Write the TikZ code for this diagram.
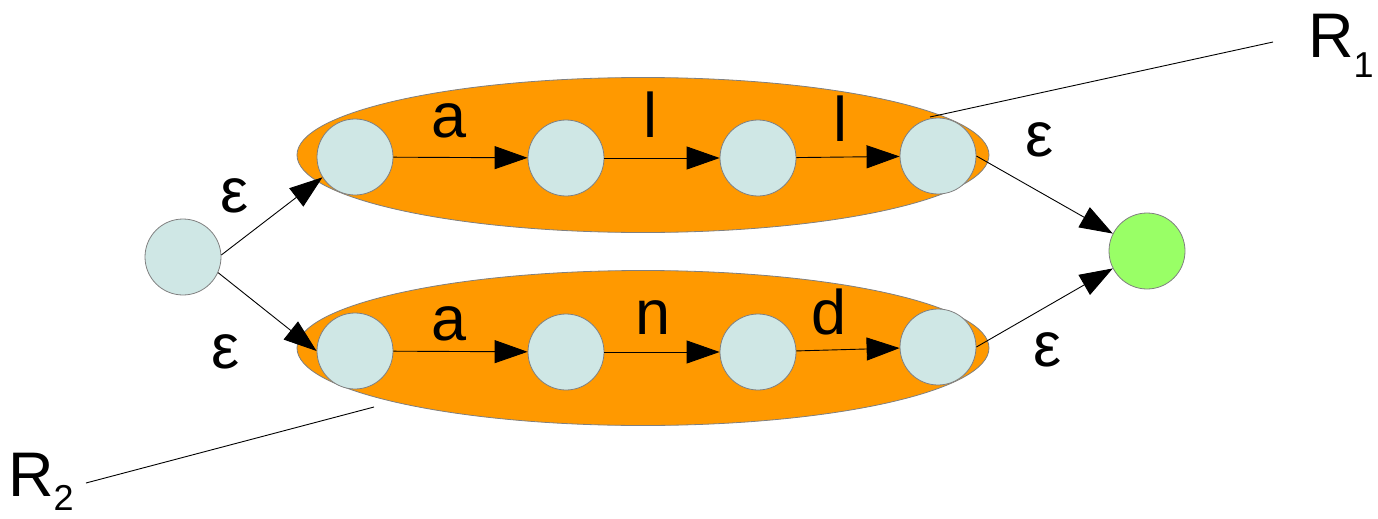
\documentclass[tikz,border=0pt]{standalone}
\usepackage{fontspec}
\setmainfont{Liberation Sans}
\usetikzlibrary{arrows.meta,shapes.geometric}
\definecolor{stateFill}{HTML}{CFE7E5}
\definecolor{acceptFill}{HTML}{99FF66}
\definecolor{groupFill}{HTML}{FF9900}
\definecolor{rim}{HTML}{808080}
\begin{document}
\begin{tikzpicture}[x=1pt,y=-1pt,
  state/.style={circle, minimum size=76pt, inner sep=0pt, fill=stateFill, draw=rim, line width=0.8pt},
  accept/.style={state, fill=acceptFill},
  group/.style={ellipse, minimum width=692pt, minimum height=155pt, inner sep=0pt, fill=groupFill, draw=rim, line width=0.8pt},
  edge/.style={-{Triangle[length=33pt,width=23pt]}, line width=0.9pt, black},
  lbl/.style={font=\fontsize{63}{70}\selectfont, inner sep=0pt},
  leader/.style={line width=0.9pt, black}]
\useasboundingbox (0,0) rectangle (1378,519);

% the two sub-automata
\node[group] (r1box) at (643,155) {};
\node[group] (r2box) at (643,348) {};

% leader lines to the R labels
\coordinate (l1a) at (1273,42);
\coordinate (l1b) at (930,117);
\coordinate (l2a) at (86,483);
\coordinate (l2b) at (374,407);
\draw[leader] (l1a) -- (l1b);
\draw[leader] (l2a) -- (l2b);

% states
\node[state] (s) at (183,257) {};
\node[state] (t1) at (355,157) {};
\node[state] (t2) at (566,158) {};
\node[state] (t3) at (758,158) {};
\node[state] (t4) at (938,156) {};
\node[state] (b1) at (355,351) {};
\node[state] (b2) at (566,352) {};
\node[state] (b3) at (758,352) {};
\node[state] (b4) at (938,347) {};
\node[accept] (f) at (1147,251) {};

% transitions
\draw[edge] (s.3) -- (t1.212);
\draw[edge] (s.336) -- (b1.west);
\draw[edge] (t1) -- (t2);
\draw[edge] (t2) -- (t3);
\draw[edge] (t3) -- (t4);
\draw[edge] (b1) -- (b2);
\draw[edge] (b2) -- (b3);
\draw[edge] (b3) -- (b4);
\draw[edge] (t4.east) -- (f.153);
\draw[edge] (b4.east) -- (f.207);

% transition labels
\node[lbl] (e1) at (235,196) {ε};
\node[lbl] (e2) at (226,352) {ε};
\node[lbl] (e3) at (1040,140) {ε};
\node[lbl] (e4) at (1048,350) {ε};
\node[lbl, anchor=base] (ta) at (449,137) {a};
\node[lbl, anchor=base] (tl1) at (650,137) {l};
\node[lbl, anchor=base] (tl2) at (840,141) {l};
\node[lbl, anchor=base] (ba) at (449,340) {a};
\node[lbl, anchor=base] (bn) at (653,334) {n};
\node[lbl, anchor=base] (bd) at (829,334) {d};

% names of the sub-automata
\node[lbl, anchor=base west] (r1) at (1308,58) {R\raisebox{-20pt}{\fontsize{36}{40}\selectfont 1}};
\node[lbl, anchor=base west] (r2) at (8,496) {R\raisebox{-14pt}{\fontsize{36}{40}\selectfont 2}};
\end{tikzpicture}
\end{document}
